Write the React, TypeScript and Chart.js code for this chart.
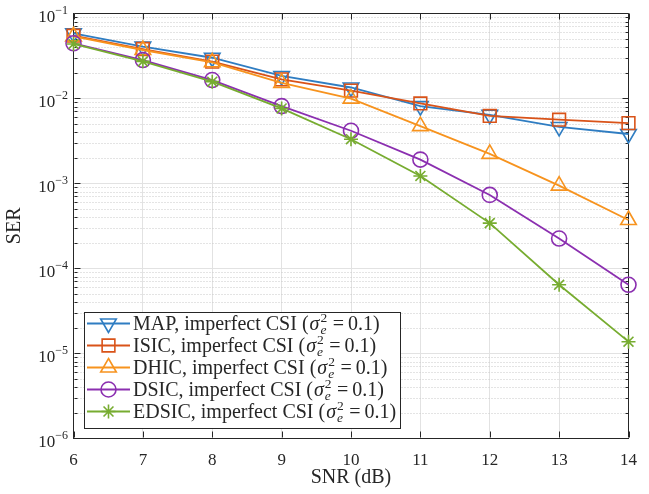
import React, { useEffect, useRef } from 'react';
import { Chart, registerables } from 'chart.js';
import { drawPoint } from 'chart.js/helpers';

Chart.register(...registerables);

// ---------- data ----------
const snr = [6, 7, 8, 9, 10, 11, 12, 13, 14];
const serMAP = [0.058, 0.0405, 0.03, 0.0183, 0.0134, 0.0081, 0.0064, 0.0046, 0.0038];
const serISIC = [0.0545, 0.038, 0.027, 0.0167, 0.0123, 0.0087, 0.0062, 0.0056, 0.0051];
const serDHIC = [0.0535, 0.037, 0.0265, 0.0152, 0.0099, 0.0047, 0.00222, 0.00094, 0.00037];
const serDSIC = [0.0444, 0.0282, 0.0164, 0.0081, 0.00415, 0.0019, 0.00073, 0.000224, 0.000064];
const serEDSIC = [0.0436, 0.0272, 0.0157, 0.0076, 0.0033, 0.00122, 0.00034, 0.000064, 0.0000137];

const seriesNames = ['MAP', 'ISIC', 'DHIC', 'DSIC', 'EDSIC'];
const legendSuffix = ', imperfect CSI (';
const legendSigma = 'σ';
const legendSub = 'e';
const legendSup = '2';
const legendEq = '=';
const legendTail = '0.1)';

const xTicks = [6, 7, 8, 9, 10, 11, 12, 13, 14];
const yExponents = [-1, -2, -3, -4, -5, -6];
const xTitle = 'SNR (dB)';
const yTitle = 'SER';

// ---------- styles ----------
const SERIF = '"Liberation Serif", "Times New Roman", serif';
const AXIS = '#262626';
const GRID = '#e2e2e2';
const MINOR = '#c8c8c8';
const styles = [
  { color: '#2f7dc2', pointStyle: 'triangle', rotation: 180, radius: 9 },
  { color: '#d95319', pointStyle: 'rect', rotation: 0, radius: 9 },
  { color: '#f7931e', pointStyle: 'triangle', rotation: 0, radius: 9 },
  { color: '#8b2fb0', pointStyle: 'circle', rotation: 0, radius: 7.5 },
  { color: '#77ac30', pointStyle: 'star', rotation: 0, radius: 7 },
];
const allSeries = [serMAP, serISIC, serDHIC, serDSIC, serEDSIC];

const framePlugin = {
  id: 'frame',
  beforeDatasetsDraw(chart: any) {
    const { ctx, chartArea: a, scales } = chart;
    const x = scales.x;
    const y = scales.y;
    ctx.save();
    // minor dotted grid
    ctx.strokeStyle = MINOR;
    ctx.lineWidth = 1;
    ctx.setLineDash([1, 2]);
    for (const t of y.ticks) {
      if (t.major) continue;
      const py = Math.round(y.getPixelForValue(t.value)) + 0.5;
      ctx.beginPath();
      ctx.moveTo(a.left + 1, py);
      ctx.lineTo(a.right - 1, py);
      ctx.stroke();
    }
    ctx.setLineDash([]);
    // box top and right
    ctx.strokeStyle = AXIS;
    ctx.lineWidth = 1;
    const top = Math.round(a.top) + 0.5;
    const right = Math.round(a.right) - 0.5;
    const left = Math.round(a.left) + 0.5;
    const bottom = Math.round(a.bottom) - 0.5;
    ctx.beginPath();
    ctx.moveTo(left, top);
    ctx.lineTo(right, top);
    ctx.lineTo(right, bottom);
    ctx.stroke();
    // ticks inward
    ctx.beginPath();
    for (const t of x.ticks) {
      const px = Math.round(x.getPixelForValue(t.value)) + 0.5;
      ctx.moveTo(px, bottom);
      ctx.lineTo(px, bottom - 6);
      ctx.moveTo(px, top);
      ctx.lineTo(px, top + 6);
    }
    for (const t of y.ticks) {
      const py = Math.round(y.getPixelForValue(t.value)) + 0.5;
      const len = t.major ? 6 : 3;
      ctx.moveTo(left, py);
      ctx.lineTo(left + len, py);
      ctx.moveTo(right, py);
      ctx.lineTo(right - len, py);
    }
    ctx.stroke();
    // y tick labels 10^n
    ctx.fillStyle = AXIS;
    ctx.textBaseline = 'alphabetic';
    for (const n of yExponents) {
      const py = y.getPixelForValue(Math.pow(10, n));
      const sup = '\u2212' + Math.abs(n);
      ctx.font = `12px ${SERIF}`;
      const sw = ctx.measureText(sup).width;
      const r = a.left - 5.5;
      ctx.textAlign = 'left';
      ctx.fillText(sup, r - sw, py + 1);
      ctx.font = `17px ${SERIF}`;
      ctx.textAlign = 'right';
      ctx.fillText('10', r - sw, py + 9);
    }
    ctx.restore();
  },
  afterDatasetsDraw(chart: any) {
    const { ctx } = chart;
    ctx.save();
    const bx = 84.5, by = 312.5, bw = 316, bh = 116;
    ctx.fillStyle = '#ffffff';
    ctx.fillRect(bx, by, bw, bh);
    ctx.strokeStyle = AXIS;
    ctx.lineWidth = 1;
    ctx.strokeRect(bx, by, bw, bh);
    const rowY = [323.5, 345.5, 367.5, 389.5, 411.5];
    seriesNames.forEach((name, i) => {
      const st = styles[i];
      const yy = rowY[i];
      ctx.strokeStyle = st.color;
      ctx.lineWidth = 1.8;
      ctx.beginPath();
      ctx.moveTo(87, yy);
      ctx.lineTo(130, yy);
      ctx.stroke();
      ctx.fillStyle = 'rgba(0,0,0,0)';
      ctx.lineWidth = 1.6;
      drawPoint(ctx, { pointStyle: st.pointStyle as any, rotation: st.rotation, radius: st.radius, borderWidth: 1.6 }, 108.5, yy);
      // text
      ctx.fillStyle = AXIS;
      ctx.textAlign = 'left';
      ctx.textBaseline = 'alphabetic';
      const base = yy + 6.5;
      let tx = 133;
      ctx.font = `20px ${SERIF}`;
      const s1 = name + legendSuffix;
      ctx.fillText(s1, tx, base);
      tx += ctx.measureText(s1).width + 1;
      ctx.font = `italic 20px ${SERIF}`;
      ctx.fillText(legendSigma, tx, base);
      tx += ctx.measureText(legendSigma).width + 1;
      ctx.font = `italic 13.5px ${SERIF}`;
      const we = ctx.measureText(legendSub).width;
      ctx.fillText(legendSub, tx, base + 4);
      ctx.font = `13.5px ${SERIF}`;
      const w2 = ctx.measureText(legendSup).width;
      ctx.fillText(legendSup, tx, base - 8.5);
      tx += Math.max(we, w2) + 5.5;
      ctx.font = `20px ${SERIF}`;
      ctx.fillText(legendEq, tx, base);
      tx += ctx.measureText(legendEq).width + 4;
      ctx.fillText(legendTail, tx, base);
    });
    ctx.restore();
  },
};

export default function App() {
  const ref = useRef<HTMLCanvasElement>(null);
  useEffect(() => {
    if (!ref.current) return;
    const datasets = seriesNames.map((name, i) => ({
      label: name,
      data: snr.map((v, j) => ({ x: v, y: allSeries[i][j] })),
      borderColor: styles[i].color,
      backgroundColor: 'rgba(0,0,0,0)',
      pointBackgroundColor: 'rgba(0,0,0,0)',
      pointBorderColor: styles[i].color,
      borderWidth: 1.8,
      pointBorderWidth: 1.6,
      pointStyle: styles[i].pointStyle as any,
      pointRotation: styles[i].rotation,
      pointRadius: styles[i].radius,
      tension: 0,
      clip: false as any,
      order: seriesNames.length - i,
    }));
    const chart = new Chart(ref.current, {
      type: 'line',
      data: { datasets },
      options: {
        animation: false,
        responsive: false,
        devicePixelRatio: 1,
        layout: { padding: { top: 13.3, right: 9, left: 0, bottom: 0 } },
        plugins: { legend: { display: false }, tooltip: { enabled: false } },
        scales: {
          x: {
            type: 'linear',
            min: 6,
            max: 14,
            afterBuildTicks: (s: any) => {
              s.ticks = xTicks.map((v) => ({ value: v }));
            },
            afterFit: (s: any) => {
              s.height = 55.7;
            },
            ticks: { font: { family: SERIF, size: 17 }, color: AXIS, padding: 12, maxRotation: 0 },
            grid: { color: GRID, drawTicks: false, lineWidth: 1 },
            border: { color: AXIS, width: 1 },
            title: {
              display: true,
              text: xTitle,
              font: { family: SERIF, size: 20 },
              color: AXIS,
              padding: { top: 0, bottom: 4 },
            },
          },
          y: {
            type: 'logarithmic',
            min: 1e-6,
            max: 1e-1,
            afterBuildTicks: (s: any) => {
              const ticks: any[] = [];
              const exps = [...yExponents].sort((a, b) => a - b);
              for (const e of exps) {
                for (let k = 1; k <= 9; k++) {
                  const v = k * Math.pow(10, e);
                  ticks.push({ value: v, major: k === 1 });
                  if (e === -1) break;
                }
              }
              s.ticks = ticks;
            },
            afterFit: (s: any) => {
              s.width = 73.5;
            },
            ticks: { display: false },
            grid: {
              color: (c: any) => (c.tick && c.tick.major ? GRID : 'rgba(0,0,0,0)'),
              drawTicks: false,
            },
            border: { color: AXIS, width: 1 },
            title: {
              display: true,
              text: yTitle,
              font: { family: SERIF, size: 20 },
              color: AXIS,
              padding: { top: 3, bottom: 0 },
            },
          },
        },
      },
      plugins: [framePlugin],
    });
    return () => chart.destroy();
  }, []);
  return (
    <div style={{ position: 'fixed', left: 0, top: 0, width: 649, height: 494, background: '#fff' }}>
      <canvas ref={ref} width={649} height={494} style={{ display: 'block', width: 649, height: 494 }} />
    </div>
  );
}
